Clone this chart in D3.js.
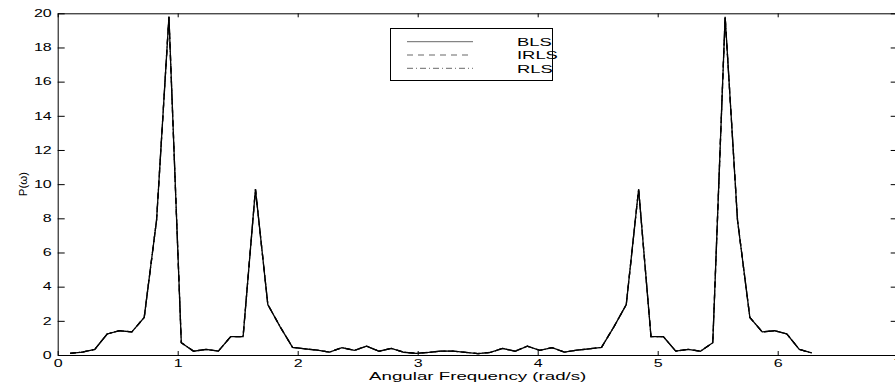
<!DOCTYPE html>
<html>
<head>
<meta charset="utf-8">
<script src="https://cdn.jsdelivr.net/npm/d3@7"></script>
<style>
  html, body { margin: 0; padding: 0; background: #fff; }
  svg { display: block; }
</style>
</head>
<body>
<svg id="chart" width="895" height="387"></svg>
<script>
// angular frequency samples (rad/s)
const freq = [0.103, 0.206, 0.309, 0.412, 0.515, 0.618, 0.721, 0.824, 0.927, 1.030,
  1.133, 1.236, 1.339, 1.442, 1.545, 1.648, 1.751, 1.854, 1.957, 2.060,
  2.163, 2.266, 2.369, 2.472, 2.575, 2.678, 2.781, 2.884, 2.987, 3.090,
  3.193, 3.296, 3.399, 3.502, 3.605, 3.708, 3.811, 3.914, 4.017, 4.120,
  4.223, 4.326, 4.429, 4.532, 4.635, 4.738, 4.841, 4.944, 5.047, 5.150,
  5.253, 5.356, 5.459, 5.562, 5.665, 5.768, 5.871, 5.974, 6.077, 6.180, 6.283];

// power spectrum estimates (the three curves overlap in the picture)
const bls = [0.10, 0.17, 0.33, 1.23, 1.42, 1.35, 2.2, 7.9, 19.8, 0.72,
  0.22, 0.33, 0.23, 1.08, 1.08, 9.7, 2.95, 1.65, 0.45, 0.36,
  0.28, 0.17, 0.43, 0.27, 0.52, 0.22, 0.39, 0.16, 0.10, 0.15,
  0.23, 0.23, 0.15, 0.08, 0.15, 0.39, 0.22, 0.52, 0.27, 0.43,
  0.17, 0.28, 0.36, 0.45, 1.65, 2.95, 9.7, 1.08, 1.08, 0.23,
  0.33, 0.22, 0.72, 19.8, 7.9, 2.2, 1.35, 1.42, 1.23, 0.33, 0.12];
const irls = [0.10, 0.17, 0.33, 1.23, 1.42, 1.35, 2.2, 7.9, 19.8, 0.72,
  0.22, 0.33, 0.23, 1.08, 1.08, 9.7, 2.95, 1.65, 0.45, 0.36,
  0.28, 0.17, 0.43, 0.27, 0.52, 0.22, 0.39, 0.16, 0.10, 0.15,
  0.23, 0.23, 0.15, 0.08, 0.15, 0.39, 0.22, 0.52, 0.27, 0.43,
  0.17, 0.28, 0.36, 0.45, 1.65, 2.95, 9.7, 1.08, 1.08, 0.23,
  0.33, 0.22, 0.72, 19.8, 7.9, 2.2, 1.35, 1.42, 1.23, 0.33, 0.12];
const rls = [0.10, 0.17, 0.33, 1.23, 1.42, 1.35, 2.2, 7.9, 19.8, 0.72,
  0.22, 0.33, 0.23, 1.08, 1.08, 9.7, 2.95, 1.65, 0.45, 0.36,
  0.28, 0.17, 0.43, 0.27, 0.52, 0.22, 0.39, 0.16, 0.10, 0.15,
  0.23, 0.23, 0.15, 0.08, 0.15, 0.39, 0.22, 0.52, 0.27, 0.43,
  0.17, 0.28, 0.36, 0.45, 1.65, 2.95, 9.7, 1.08, 1.08, 0.23,
  0.33, 0.22, 0.72, 19.8, 7.9, 2.2, 1.35, 1.42, 1.23, 0.33, 0.12];

const xTicks = [0, 1, 2, 3, 4, 5, 6, 7];
const yTicks = [0, 2, 4, 6, 8, 10, 12, 14, 16, 18, 20];
const seriesNames = ["BLS", "IRLS", "RLS"];

const font = "'Liberation Sans', Arial, Helvetica, sans-serif";
const stretch = 1.6; // glyphs in the picture are drawn wide
const dashes = [null, "6,5", "6,3,1,3"];

const svg = d3.select("#chart");
const margin = { top: 13.3, left: 57.7 };
const x = d3.scaleLinear().domain([0, 7]).range([margin.left, 897.7]);
const y = d3.scaleLinear().domain([0, 20]).range([355, margin.top]);

function styleAxis(g) {
  g.attr("font-family", font).attr("font-size", 10);
  g.select(".domain").attr("stroke", "#000").attr("stroke-width", 1);
  g.selectAll(".tick line").attr("stroke", "#000").attr("stroke-width", 1);
}

// left axis with labels
svg.append("g")
  .attr("transform", `translate(${x(0)},0)`)
  .call(d3.axisLeft(y).tickValues(yTicks).tickFormat(d3.format("d")).tickSizeInner(-7).tickSizeOuter(0))
  .call(styleAxis)
  .selectAll(".tick text")
  .attr("x", -6 / stretch)
  .attr("fill", "#000")
  .attr("transform", `scale(${stretch},1)`);

// right axis, ticks only
svg.append("g")
  .attr("transform", `translate(${x(7)},0)`)
  .call(d3.axisRight(y).tickValues(yTicks).tickSizeInner(-7).tickSizeOuter(0).tickFormat(""))
  .call(styleAxis);

// bottom axis with labels
svg.append("g")
  .attr("transform", `translate(0,${y(0)})`)
  .call(d3.axisBottom(x).tickValues(xTicks).tickFormat(d3.format("d")).tickSizeInner(-4).tickSizeOuter(0))
  .call(styleAxis)
  .selectAll(".tick text")
  .attr("y", 5)
  .attr("fill", "#000")
  .attr("transform", `scale(${stretch},1)`);

// top axis, ticks only
svg.append("g")
  .attr("transform", `translate(0,${y(20)})`)
  .call(d3.axisTop(x).tickValues(xTicks).tickSizeInner(-4).tickSizeOuter(0).tickFormat(""))
  .call(styleAxis);

// curves
const line = d3.line().x((d) => x(d[0])).y((d) => y(d[1]));
[rls, irls, bls].forEach((vals, i) => {
  const dash = dashes[2 - i];
  svg.append("path")
    .datum(freq.map((f, j) => [f, vals[j]]))
    .attr("fill", "none")
    .attr("stroke", "#000")
    .attr("stroke-width", 1.3)
    .attr("stroke-linejoin", "miter")
    .attr("stroke-dasharray", dash)
    .attr("d", line);
});

// axis titles
svg.append("text")
  .attr("transform", `translate(${(x(0) + x(7)) / 2},380) scale(${stretch},1)`)
  .attr("text-anchor", "middle")
  .attr("font-family", font)
  .attr("font-size", 11.7)
  .text("Angular Frequency (rad/s)");

svg.append("text")
  .attr("transform", "translate(27,184) rotate(-90)")
  .attr("text-anchor", "middle")
  .attr("font-family", font)
  .attr("font-size", 11.5)
  .text("P(ω)");

// legend
const legend = svg.append("g");
legend.append("rect")
  .attr("x", 390.5).attr("y", 28.5)
  .attr("width", 162).attr("height", 52)
  .attr("fill", "#fff")
  .attr("stroke", "#000")
  .attr("stroke-width", 1);

seriesNames.forEach((name, i) => {
  const ly = 41.7 + i * 13.3;
  legend.append("line")
    .attr("x1", 407).attr("x2", 473)
    .attr("y1", ly).attr("y2", ly)
    .attr("stroke", "#000")
    .attr("stroke-width", 0.6)
    .attr("stroke-dasharray", dashes[i]);
  legend.append("text")
    .attr("transform", `translate(517,${ly + 4.4}) scale(${stretch},1)`)
    .attr("font-family", font)
    .attr("font-size", 11.5)
    .text(name);
});
</script>
</body>
</html>
